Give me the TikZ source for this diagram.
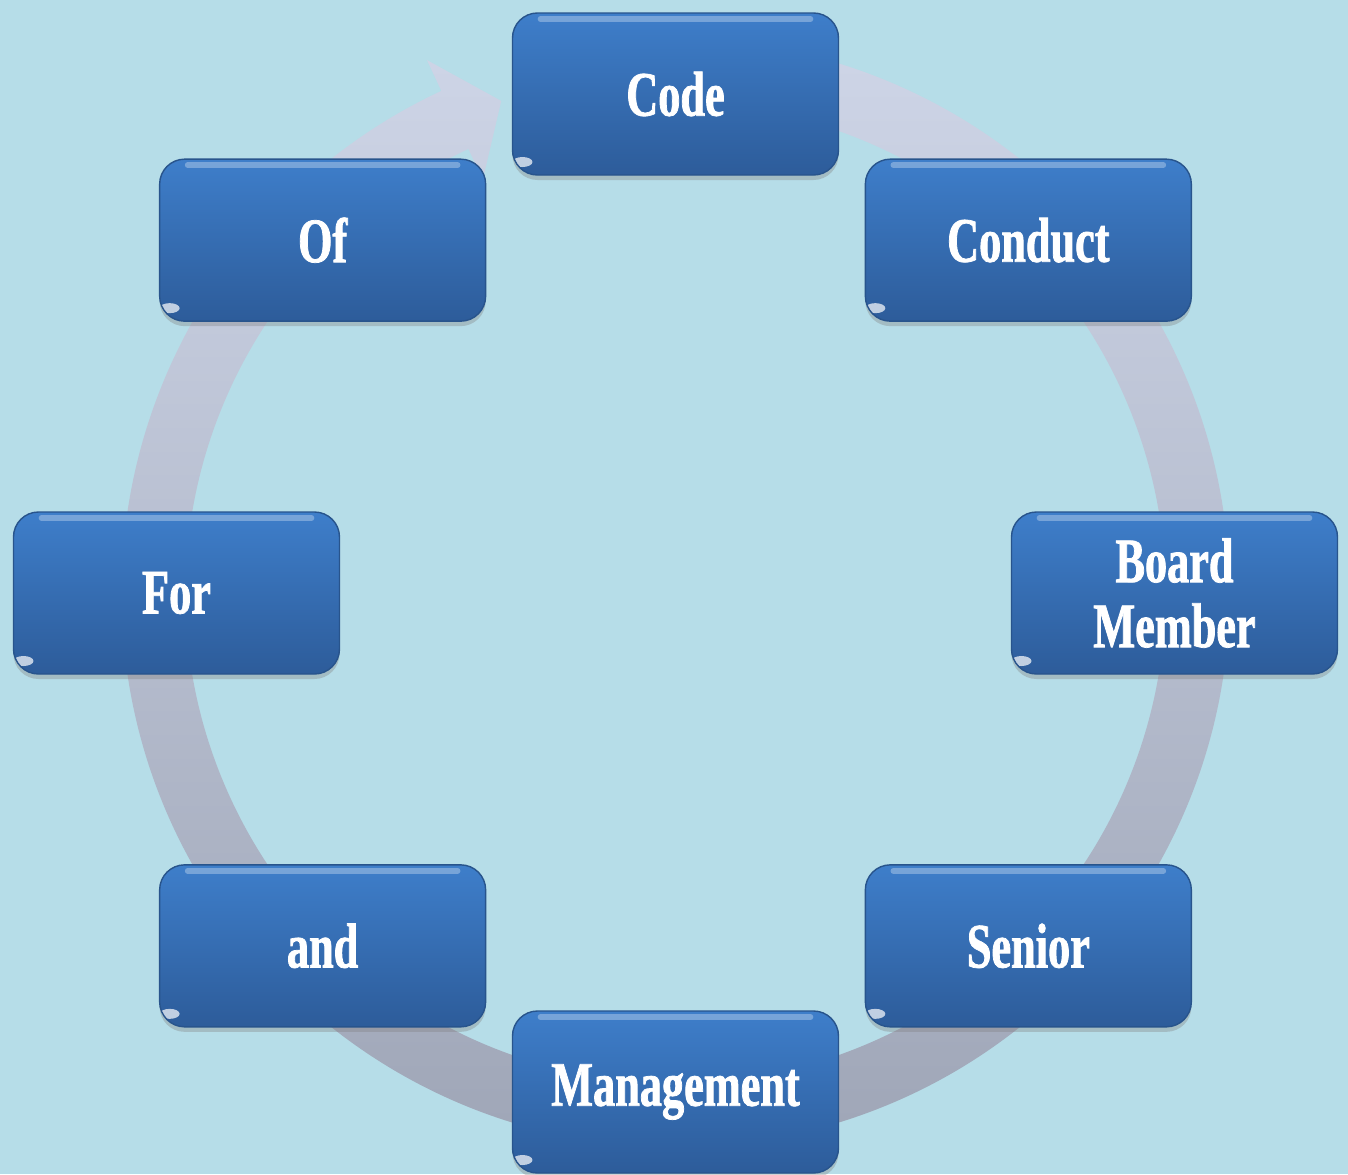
\documentclass[tikz,border=0pt]{standalone}
\usepackage{fontspec}
\usetikzlibrary{shadows}

\newfontfamily\stepfont[FakeStretch=0.7, FakeBold=1.2]{Liberation Serif}

\definecolor{bgblue}{RGB}{182,221,232}
\definecolor{ringtop}{RGB}{207,214,232}
\definecolor{ringbot}{RGB}{158,165,182}
\definecolor{boxtop}{RGB}{62,126,202}
\definecolor{boxbot}{RGB}{45,92,154}
\definecolor{boxedge}{RGB}{40,84,140}

\tikzset{
  stepbox/.style={
    rounded corners=0.25cm,
    minimum width=3.26cm, minimum height=1.62cm,
    top color=boxtop, bottom color=boxbot,
    draw=boxedge, line width=0.4pt,
    drop shadow={shadow xshift=0pt, shadow yshift=-0.05cm, opacity=0.35},
    text=white, align=center,
    font=\stepfont\bfseries\fontsize{18}{18.5}\selectfont,
    path picture={
      % glossy line along the top edge
      \draw[white, opacity=0.3, line width=1.6pt, line cap=round]
        ([xshift=0.28cm, yshift=-0.06cm]path picture bounding box.north west) --
        ([xshift=-0.28cm, yshift=-0.06cm]path picture bounding box.north east);
      % light glint in the lower left corner
      \fill[white, opacity=0.7, rotate around={-40:([xshift=0.1cm, yshift=0.13cm]path picture bounding box.south west)}]
        ([xshift=0.1cm, yshift=0.13cm]path picture bounding box.south west)
        ellipse[x radius=0.1cm, y radius=0.05cm];
    }
  }
}

\begin{document}
\begin{tikzpicture}

% Define radii
\def\ringR{5.22}
\def\ringOut{5.54}
\def\ringIn{4.90}
\def\boxR{4.99}

\fill[bgblue] (-6.755,-5.81) rectangle (6.725,5.93);
\useasboundingbox (-6.755,-5.81) rectangle (6.725,5.93);

% --- Ring arrow running clockwise, head ending at the top ---
\shade[top color=ringtop, bottom color=ringbot]
  (95:\ringOut) arc[start angle=95, end angle=-245, radius=\ringOut]
  -- (-245:5.88) -- (-250.5:\ringR) -- (-245:4.56)
  -- (-245:\ringIn) arc[start angle=-245, end angle=95, radius=\ringIn]
  -- cycle;
% --- End ring ---

% --- Boxes around the ring ---
\node[stepbox] (code)    at (90:\boxR)  {Code};
\node[stepbox] (conduct) at (45:\boxR)  {Conduct};
\node[stepbox] (board)   at (0:\boxR)   {Board\\Member};
\node[stepbox] (senior)  at (-45:\boxR) {Senior};
\node[stepbox] (mgmt)    at (-90:\boxR) {Management};
\node[stepbox] (andbox)  at (225:\boxR) {and};
\node[stepbox] (for)     at (180:\boxR) {For};
\node[stepbox] (of)      at (135:\boxR) {Of};
% --- End boxes ---

\end{tikzpicture}
\end{document}
